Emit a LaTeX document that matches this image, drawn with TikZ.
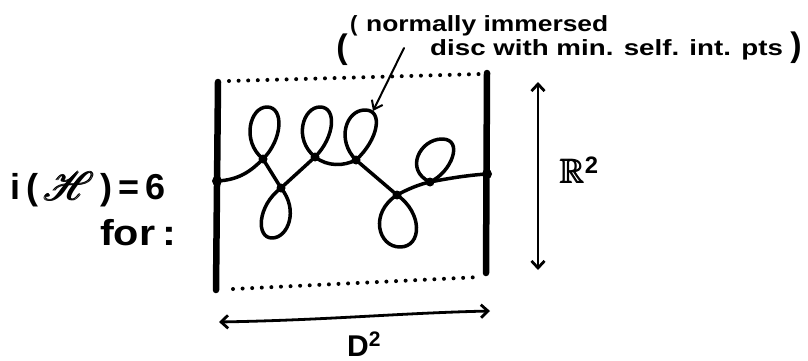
\documentclass[tikz,border=0pt]{standalone}
\usepackage{amsmath}
\usepackage{fontspec}
\setmainfont{Liberation Sans}
\usepackage{amssymb}
\usepackage{mathrsfs}
\usepackage{graphicx}
\usetikzlibrary{arrows.meta}
\tikzset{
  wall/.style={line width=6.5pt, line cap=round},
  dotline/.style={line width=4pt, line cap=round, dash pattern=on 0pt off 9.6pt},
  strand/.style={line width=3.5pt, line cap=round, line join=round},
  knotpt/.style={circle, fill, inner sep=0pt, minimum size=9pt},
  endpt/.style={circle, fill, inner sep=0pt, minimum size=10pt},
  dimarrow/.style={line width=2.8pt, line cap=round,
    {Straight Barb[length=7pt,width=13pt,line width=2.8pt]}-{Straight Barb[length=7pt,width=13pt,line width=2.8pt]}},
  pointer/.style={line width=2pt, line cap=round, -{Straight Barb[length=8pt,width=12pt,line width=2pt]}},
  hand/.style={inner sep=0pt, anchor=base west},
}
\begin{document}
\begin{tikzpicture}[x=1pt,y=-1pt]
\useasboundingbox (0,0) rectangle (808,361);
% walls
\coordinate (wlt) at (218,82);
\coordinate (wlb) at (216,290);
\coordinate (wrt) at (487,73);
\coordinate (wrb) at (486,273);
\draw[wall] (wlt) -- (wlb);
\draw[wall] (wrt) -- (wrb);
% dotted top/bottom
\coordinate (dt1) at (229,81);
\coordinate (dt2) at (481,74);
\coordinate (db1) at (233,289);
\coordinate (db2) at (481,277);
\draw[dotline] (dt1) -- (dt2);
\draw[dotline] (db1) -- (db2);
% knot points
\node[endpt] (L) at (217,181) {};
\node[knotpt] (A) at (263,159) {};
\node[knotpt] (B) at (281,188) {};
\node[knotpt] (C) at (315,157) {};
\node[knotpt] (D) at (356,160) {};
\node[knotpt] (E) at (397,195) {};
\node[knotpt] (F) at (430,182) {};
\node[endpt] (R) at (487,174) {};
% loop extremities
\coordinate (At) at (267,107);
\coordinate (Bb) at (272,238);
\coordinate (Ct) at (320,107);
\coordinate (Dt) at (365,110);
\coordinate (Eb) at (400,247);
\coordinate (Ft) at (442,139);
% strand
\draw[strand] (L.center) .. controls (240,180) and (252,170) .. (A.center)
  -- (B.center) -- (C.center)
  .. controls (328,167) and (344,166) .. (D.center)
  -- (E.center)
  .. controls (408,189) and (420,184) .. (F.center)
  .. controls (450,178) and (470,175) .. (R.center);
% loops
\draw[strand] (A.center) .. controls +(-22,-18) and +(-17,0) .. (At)
  .. controls +(17,0) and +(20,-20) .. (A.center);
\draw[strand] (B.center) .. controls +(-24,18) and +(-16,0) .. (Bb)
  .. controls +(16,0) and +(18,22) .. (B.center);
\draw[strand] (C.center) .. controls +(-22,-18) and +(-17,0) .. (Ct)
  .. controls +(17,0) and +(20,-20) .. (C.center);
\draw[strand] (D.center) .. controls +(-20,-20) and +(-19,0) .. (Dt)
  .. controls +(19,0) and +(22,-20) .. (D.center);
\draw[strand] (E.center) .. controls +(-28,18) and +(-22,0) .. (Eb)
  .. controls +(22,0) and +(26,18) .. (E.center);
\draw[strand] (F.center) .. controls +(-26,-12) and +(-22,0) .. (Ft)
  .. controls +(22,0) and +(22,-10) .. (F.center);
% annotation
\node[hand, font=\fontsize{22}{26}\selectfont\bfseries] (t0) at (350,32) {(};
\node[hand, font=\fontsize{22}{26}\selectfont\bfseries] (t1) at (366,32) {\scalebox{1.2}[1]{normally immersed}};
\node[hand, font=\fontsize{22}{26}\selectfont\bfseries] (t2) at (430,56) {\scalebox{1.26}[1]{disc with min. self. int. pts}};
\node[font=\fontsize{34}{40}\selectfont\bfseries, inner sep=0pt] (po) at (342,50) {(};
\node[font=\fontsize{34}{40}\selectfont\bfseries, inner sep=0pt] (pc) at (796,48) {)};
\coordinate (ptail) at (404,48);
\coordinate (ptip) at (373,111);
\draw[pointer] (ptail) -- (ptip);
% left label
\node[hand, font=\fontsize{36}{44}\selectfont\bfseries] (lab1) at (10,199) {i\,(\,\raisebox{-0.05em}{\scalebox{1.6}{$\pmb{\mathscr{H}}$}}\,)\,=\,6};
\node[hand, font=\fontsize{36}{44}\selectfont\bfseries] (lab2) at (100,245) {\scalebox{1.15}[1]{for\,:}};
% dimension arrows
\coordinate (va1) at (538,82);
\coordinate (va2) at (538,270);
\draw[dimarrow] (va1) -- (va2);
\node[hand, font=\fontsize{34}{40}\selectfont\bfseries] (rlab) at (560,183) {$\pmb{\mathbb{R}}$\textsuperscript{2}};
\coordinate (ha1) at (219,322);
\coordinate (ha2) at (490,311);
\draw[dimarrow] (ha1) .. controls (330,320) and (400,313) .. (ha2);
\node[hand, font=\fontsize{30}{36}\selectfont\bfseries] (dlab) at (347,356) {D\textsuperscript{2}};
\end{tikzpicture}
\end{document}
